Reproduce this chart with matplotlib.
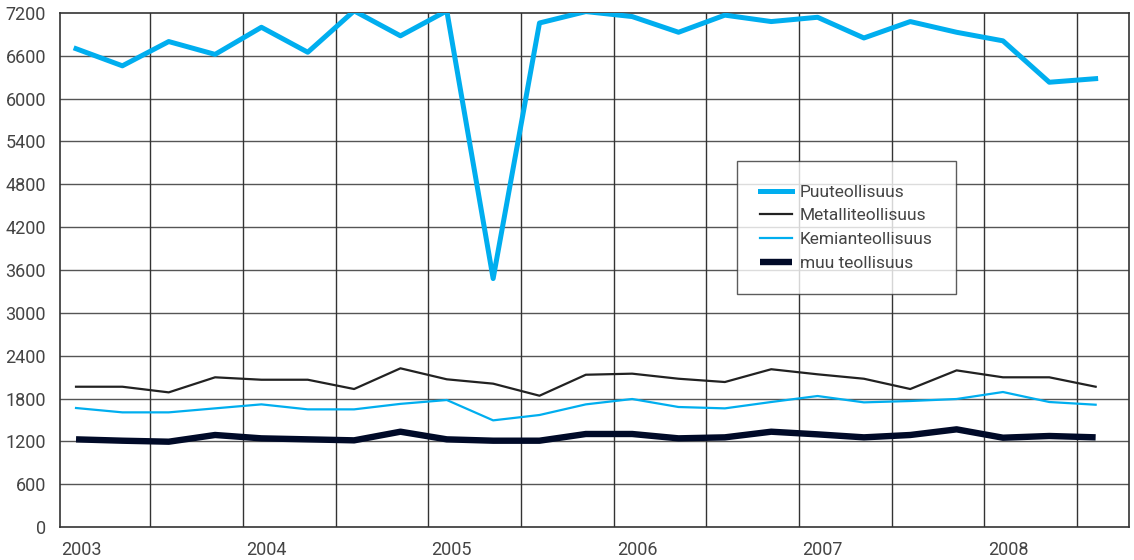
import numpy as np
import matplotlib.pyplot as plt
import matplotlib.transforms as mtransforms

plt.rcParams['font.family'] = ['Roboto', 'DejaVu Sans']

# Quarterly values 2003 Q1 - 2008 Q3
quarters = list(range(23))
years = ["2003", "2004", "2005", "2006", "2007", "2008"]

puu = [6700, 6460, 6800, 6620, 7000, 6650, 7230, 6880, 7230, 3480, 7060, 7220,
       7150, 6930, 7170, 7080, 7140, 6850, 7080, 6930, 6810, 6230, 6280]
metalli = [1965, 1965, 1886, 2097, 2063, 2063, 1933, 2223, 2069, 2008, 1839, 2133,
           2148, 2077, 2031, 2210, 2139, 2077, 1933, 2194, 2097, 2097, 1965]
kemia = [1667, 1606, 1606, 1662, 1718, 1648, 1648, 1725, 1779, 1494, 1569, 1718,
         1793, 1681, 1662, 1751, 1835, 1746, 1765, 1793, 1891, 1751, 1713]
muu = [1228, 1209, 1195, 1289, 1242, 1228, 1214, 1335, 1228, 1209, 1209, 1303,
       1303, 1242, 1256, 1335, 1298, 1256, 1289, 1368, 1251, 1275, 1256]

blue = '#00aeef'
txt = '#444444'

fig = plt.figure(figsize=(11.34, 5.6), dpi=100)
ax = fig.add_axes([0.0529, 0.0589, 0.9427, 0.9179])

# grid
for y in range(600, 7200, 600):
    ax.axhline(y, color='#555555', lw=1.0, zorder=1)
for x in np.arange(1.6, 22, 2):
    ax.axvline(x, color='#333333', lw=1.0, zorder=1)

ax.plot(quarters, puu, color=blue, lw=3.6, label='Puuteollisuus', zorder=3)
ax.plot(quarters, metalli, color='#222222', lw=1.6, label='Metalliteollisuus', zorder=3)
ax.plot(quarters, kemia, color=blue, lw=1.6, label='Kemianteollisuus', zorder=3)
ax.plot(quarters, muu, color='#000a28', lw=4.6, label='muu teollisuus',
        solid_capstyle='butt', zorder=3)

ax.set_xlim(-0.346, 22.72)
ax.set_ylim(0, 7200)
ax.set_yticks(range(0, 7201, 600))
ax.set_xticks(range(0, 21, 4))
ax.set_xticklabels(years)
ax.tick_params(axis='both', length=0, labelsize=13, labelcolor=txt)
ax.tick_params(axis='y', pad=10)
ax.tick_params(axis='x', pad=10)
offset = mtransforms.ScaledTranslation(5 / 100, 0, fig.dpi_scale_trans)
for lab in ax.get_xticklabels():
    lab.set_transform(lab.get_transform() + offset)

for s in ax.spines.values():
    s.set_color('#333333')
    s.set_linewidth(1.2)

leg = ax.legend(loc='upper left', bbox_to_anchor=(0.6333, 0.712), frameon=True,
                fancybox=False, edgecolor='#333333', fontsize=12.5,
                handlelength=1.8, handletextpad=0.45, labelspacing=0.49,
                borderpad=1.35, borderaxespad=0, labelcolor=txt)
leg.get_frame().set_linewidth(1.0)
leg.set_zorder(5)

fig.savefig('out.png', dpi=100)
